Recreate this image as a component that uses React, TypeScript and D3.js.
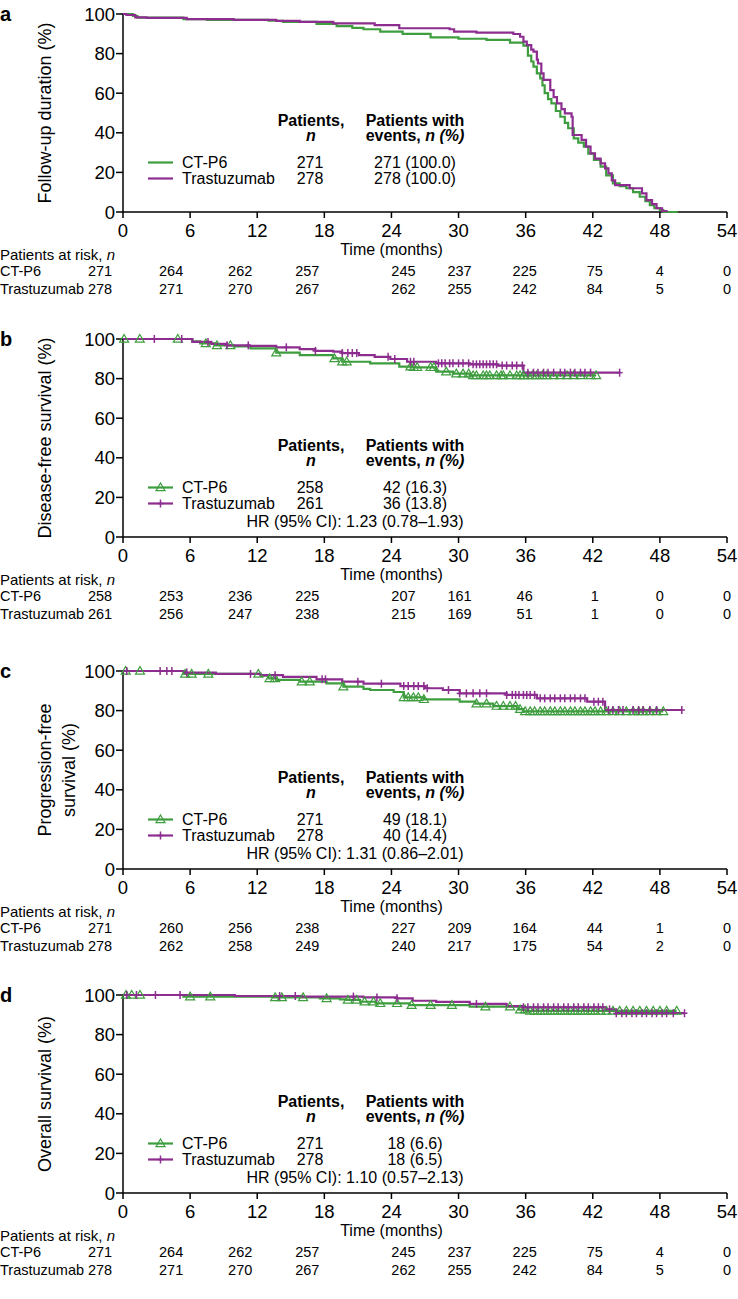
import React from 'react';
import * as d3 from 'd3';

const GREEN = '#3e9d3e';
const PURPLE = '#8c2d8f';
const FONT = 'Liberation Sans, Arial, Helvetica, sans-serif';

const timeTicks = [0, 6, 12, 18, 24, 30, 36, 42, 48, 54];
const yTicks = [0, 20, 40, 60, 80, 100];
const riskCols = [0, 6, 12, 18, 24, 30, 36, 42, 48, 54];
const riskColShift = [-23, -19, -17, -17, 12, 1, -1, 2, 0, 0];

const panelLetters = ['a', 'b', 'c', 'd'];
const panelTops = [14, 339, 671, 995];
const yTitles = [['Follow-up duration (%)'], ['Disease-free survival (%)'], ['Progression-free', 'survival (%)'], ['Overall survival (%)']];
const seriesNames = ['CT-P6', 'Trastuzumab'];

// ---- Panel a: follow-up duration
const aCtT = [0, 0.9, 1.3, 5.4, 7.5, 13, 14.3, 17.3, 19.1, 20.5, 21.5, 23, 25, 27.5, 30, 32.5, 34.6, 35.8, 36.2, 36.5, 36.7, 37, 37.3, 37.5, 37.7, 38, 38.3, 38.7, 39.1, 39.5, 39.8, 40.3, 40.7, 41.2, 41.6, 42.1, 42.7, 43.2, 43.8, 44.4, 45, 45.6, 46.2, 46.7, 47.1, 47.5, 48, 48.3, 49.6];
const aCtS = [100, 99, 98.2, 97.4, 97, 96.6, 96, 95, 93.9, 93, 92.3, 91.1, 90, 88.2, 87.5, 86.9, 85.5, 84, 79, 76, 73.4, 70, 67.5, 64, 60, 57, 54.9, 51, 48.1, 45, 42.3, 37.2, 35, 33, 29.5, 26.3, 22.9, 18.5, 14.5, 13, 12, 10, 7.7, 5.5, 3.5, 2, 1, 0, 0];
const aTrT = [0, 0.3, 1.1, 2.1, 5.7, 9.9, 13.7, 15.8, 18.8, 22.5, 24.7, 29.2, 29.6, 31.6, 34.9, 35.5, 35.8, 36.1, 36.5, 36.7, 37, 37.1, 37.4, 37.6, 38.2, 38.5, 38.8, 39.2, 39.5, 40.1, 40.2, 41, 41.4, 41.8, 42.2, 42.7, 43.1, 43.4, 43.7, 44, 45.3, 46.4, 46.8, 47.3, 47.7, 48.2, 48.6];
const aTrS = [100, 99.5, 98.3, 98, 97.4, 97, 96.5, 96, 95.3, 94.4, 92.8, 92.3, 91.1, 90.6, 89.9, 88.5, 86, 84.3, 82, 81, 77, 75, 70, 66.7, 61.6, 58, 54.9, 52, 49.8, 48.1, 38.9, 36.4, 33, 29.6, 27, 24.6, 22, 19.5, 16, 13.6, 12, 9.4, 6, 4, 1.9, 0.5, 0];

// ---- Panel b: disease-free survival
const bCtT = [0, 6.2, 6.9, 8.2, 9.9, 11.4, 13.7, 15.8, 18.8, 19.6, 22.1, 24.7, 25.8, 28, 29.5, 31, 42.3];
const bCtS = [100, 98.8, 97.8, 96.8, 96.2, 95.3, 93.1, 91.9, 90.2, 88.5, 87.7, 86, 85.7, 83.5, 82.5, 81.6, 81.6];
const bTrT = [0, 6.2, 7.9, 9.3, 11.3, 13.7, 15.8, 17.2, 18.8, 19.6, 21.1, 22.5, 23.9, 25.4, 28, 31, 33.5, 35.8, 44.4];
const bTrS = [100, 98.5, 97.5, 96.8, 96.5, 95.8, 94.9, 94, 93.6, 92.9, 91.9, 91, 89.9, 88.5, 87.7, 87.2, 86.6, 83, 83];
const bCtCens = [0.1, 1.5, 4.9, 7.4, 8.4, 9.6, 13.7, 18.9, 19.6, 20.0, 25.7, 26.0, 26.3, 27.5, 27.8, 28.9, 29.8, 30.4, 30.9, 31.3, 31.6, 32.2, 32.5, 32.8, 33.4, 33.8, 34.0, 34.6, 35.2, 35.5, 35.8, 36.2, 36.6, 37.0, 37.5, 37.9, 38.5, 39.1, 39.7, 40.3, 40.9, 41.8, 42.3];
const bTrCens = [2.8, 5.25, 7.6, 9.3, 11.2, 14.6, 17.2, 19.6, 20.1, 20.5, 20.9, 23.7, 24.3, 25.7, 26.0, 28.2, 28.5, 28.8, 29.2, 29.5, 30.0, 30.4, 30.9, 31.3, 31.6, 31.9, 32.2, 32.5, 32.8, 33.1, 33.4, 33.9, 34.3, 34.8, 35.2, 35.7, 36.2, 36.7, 37.1, 37.6, 38.0, 38.5, 39.1, 39.5, 40.0, 40.4, 40.9, 41.3, 41.8, 44.4];

// ---- Panel c: progression-free survival
const cCtT = [0, 5.4, 12.3, 13, 13.7, 15.8, 18.2, 19.7, 21.5, 22.1, 24.2, 25.1, 26.9, 30.1, 31.5, 33.1, 35.2, 35.8, 48.3];
const cCtS = [100, 98.5, 97.6, 96.3, 95.5, 94.6, 93.8, 92.1, 91, 90.4, 89.4, 86.7, 85.7, 84.5, 83.5, 82.3, 80.7, 79.6, 79.6];
const cTrT = [0, 5.6, 8.3, 12.3, 14.3, 17.3, 19.6, 21.5, 24.8, 27, 28.6, 30.1, 34.3, 37, 41.5, 43.1, 49.9];
const cTrS = [100, 99.2, 98.5, 97.9, 97, 95.8, 94.6, 93.6, 92.4, 91.3, 90.4, 88.7, 87.9, 86.2, 84.5, 80.3, 80.3];
const cCtCens = [0.24, 1.52, 5.55, 6.14, 7.63, 12.1, 13.1, 13.6, 15.98, 16.7, 19.7, 25.1, 25.5, 25.96, 26.4, 26.9, 31.6, 32.5, 33.4, 34.0, 34.6, 35.1, 35.5, 35.95, 36.4, 36.8, 37.3, 37.7, 38.2, 38.6, 39.1, 39.5, 40.0, 40.4, 40.9, 41.3, 41.8, 42.2, 42.7, 43.2, 43.8, 44.4, 45.0, 45.6, 46.1, 46.5, 47.1, 47.7, 48.3];
const cTrCens = [0.33, 3.32, 3.92, 4.37, 5.7, 11.4, 13.6, 17.8, 18.1, 21.0, 23.1, 25.1, 25.5, 26.0, 26.4, 26.9, 27.2, 29.1, 30.1, 30.7, 31.3, 31.9, 32.5, 34.3, 34.8, 35.1, 35.4, 35.8, 36.1, 36.4, 36.8, 37.3, 37.7, 38.2, 38.6, 39.1, 39.5, 40.0, 40.4, 40.9, 41.3, 42.1, 42.5, 42.9, 43.4, 43.8, 44.3, 44.7, 45.6, 46.1, 46.5, 47.1, 47.7, 49.96];

// ---- Panel d: overall survival
const dCtT = [0, 5.4, 13.4, 17.6, 19.4, 20, 21.2, 22.6, 25.6, 31, 35.4, 36, 49.5];
const dCtS = [100, 99.2, 98.8, 98.3, 97.8, 97.5, 96.6, 95.8, 94.9, 94.1, 92.6, 92, 92];
const dTrT = [0, 10, 16, 21.5, 24.5, 25.9, 28, 31, 34.3, 35.8, 43.2, 44.1, 50.2];
const dTrS = [100, 99.5, 99.2, 98.8, 98.3, 97.1, 96.5, 95.5, 94.4, 93.8, 92.8, 90.8, 90.8];
const dCtCens = [0.27, 0.78, 1.52, 6.0, 7.8, 13.6, 14.2, 16.1, 18.2, 20.1, 20.9, 21.6, 22.4, 23.0, 24.5, 25.8, 27.5, 29.4, 32.4, 34.6, 35.5, 35.95, 36.4, 36.8, 37.3, 37.7, 38.2, 38.6, 39.1, 39.5, 40.0, 40.4, 40.9, 41.3, 41.8, 42.2, 42.7, 43.2, 43.8, 44.4, 45.0, 45.6, 46.2, 46.8, 47.4, 48.0, 48.6, 49.5];
const dTrCens = [0.33, 1.2, 2.9, 5.1, 14.0, 15.4, 20.6, 22.7, 24.5, 31.6, 35.8, 36.2, 36.7, 37.1, 37.6, 38.0, 38.5, 38.9, 39.4, 39.8, 40.3, 40.7, 41.2, 41.6, 42.1, 42.5, 42.9, 43.5, 44.1, 44.6, 45.0, 45.5, 45.9, 46.4, 46.8, 47.3, 47.7, 48.2, 48.6, 49.2, 50.2];

// ---- Legends / tables
const legendN = [[271, 278], [258, 261], [271, 278], [271, 278]];
const legendEvents = [['271 (100.0)', '278 (100.0)'], ['42 (16.3)', '36 (13.8)'], ['49 (18.1)', '40 (14.4)'], ['18 (6.6)', '18 (6.5)']];
const hrTexts = ['', 'HR (95% CI): 1.23 (0.78–1.93)', 'HR (95% CI): 1.31 (0.86–2.01)', 'HR (95% CI): 1.10 (0.57–2.13)'];

const riskCt = [
  [271, 264, 262, 257, 245, 237, 225, 75, 4, 0],
  [258, 253, 236, 225, 207, 161, 46, 1, 0, 0],
  [271, 260, 256, 238, 227, 209, 164, 44, 1, 0],
  [271, 264, 262, 257, 245, 237, 225, 75, 4, 0],
];
const riskTr = [
  [278, 271, 270, 267, 262, 255, 242, 84, 5, 0],
  [261, 256, 247, 238, 215, 169, 51, 1, 0, 0],
  [278, 262, 258, 249, 240, 217, 175, 54, 2, 0],
  [278, 271, 270, 267, 262, 255, 242, 84, 5, 0],
];

const ctTimes = [aCtT, bCtT, cCtT, dCtT];
const ctSurv = [aCtS, bCtS, cCtS, dCtS];
const trTimes = [aTrT, bTrT, cTrT, dTrT];
const trSurv = [aTrS, bTrS, cTrS, dTrS];
const ctCens = [[], bCtCens, cCtCens, dCtCens];
const trCens = [[], bTrCens, cTrCens, dTrCens];

const PLOT_H = 198;
const x = d3.scaleLinear().domain([0, 54]).range([123, 727]);

function stepAt(times: number[], vals: number[], t: number) {
  let v = vals[0];
  for (let i = 0; i < times.length; i++) if (times[i] <= t) v = vals[i];
  return v;
}

function Triangle({ cx, cy, color }: { cx: number; cy: number; color: string }) {
  return <path d={`M${cx},${cy - 4.5}L${cx + 4.5},${cy + 3.2}L${cx - 4.5},${cy + 3.2}Z`} fill="none" stroke={color} strokeWidth={1.2} />;
}
function Plus({ cx, cy, color }: { cx: number; cy: number; color: string }) {
  return (
    <g stroke={color} strokeWidth={1.5}>
      <line x1={cx} x2={cx} y1={cy - 4} y2={cy + 4} />
      <line x1={cx - 3} x2={cx + 3} y1={cy} y2={cy} />
    </g>
  );
}

function Panel({ idx }: { idx: number }) {
  const top = panelTops[idx];
  const bottom = top + PLOT_H;
  const y = d3.scaleLinear().domain([0, 100]).range([bottom, top]);
  const line = d3.line<[number, number]>().x(d => x(d[0])).y(d => y(d[1])).curve(d3.curveStepAfter);
  const ctPts = ctTimes[idx].map((t, i) => [t, ctSurv[idx][i]] as [number, number]);
  const trPts = trTimes[idx].map((t, i) => [t, trSurv[idx][i]] as [number, number]);
  const markers = idx > 0;
  const legTop = top;
  const lineX1 = 148, lineX2 = 173, labelX = 182, col1 = 311, col2 = 415;
  const rowY = [legTop + 154, legTop + 170];
  const titles = yTitles[idx];
  return (
    <g>
      <text x={0} y={top + 7} fontFamily={FONT} fontWeight="bold" fontSize={20}>{panelLetters[idx]}</text>
      {titles.length === 1 ? (
        <text transform={`translate(51,${top + PLOT_H / 2}) rotate(-90)`} textAnchor="middle" fontFamily={FONT} fontSize={18}>{titles[0]}</text>
      ) : (
        <g>
          <text transform={`translate(51,${top + PLOT_H / 2}) rotate(-90)`} textAnchor="middle" fontFamily={FONT} fontSize={18}>{titles[0]}</text>
          <text transform={`translate(75,${top + PLOT_H / 2}) rotate(-90)`} textAnchor="middle" fontFamily={FONT} fontSize={18}>{titles[1]}</text>
        </g>
      )}
      <line x1={x(0)} x2={x(0)} y1={top} y2={bottom} stroke="#000" strokeWidth={1.5} />
      <line x1={x(0)} x2={x(54)} y1={bottom} y2={bottom} stroke="#000" strokeWidth={1.5} />
      {yTicks.map(v => (
        <g key={'y' + v}>
          <line x1={x(0) - 7} x2={x(0)} y1={y(v)} y2={y(v)} stroke="#000" strokeWidth={1.5} />
          <text x={115} y={y(v) + 6.5} textAnchor="end" fontFamily={FONT} fontSize={18.5}>{v}</text>
        </g>
      ))}
      {timeTicks.map(t => (
        <g key={'x' + t}>
          <line x1={x(t)} x2={x(t)} y1={bottom} y2={bottom + 6} stroke="#000" strokeWidth={1.5} />
          <text x={x(t)} y={bottom + 25} textAnchor="middle" fontFamily={FONT} fontSize={18.5}>{t}</text>
        </g>
      ))}
      <text x={x(24)} y={bottom + 43} textAnchor="middle" fontFamily={FONT} fontSize={16}>Time (months)</text>
      <path d={line(ctPts) || ''} fill="none" stroke={GREEN} strokeWidth={2.2} />
      <path d={line(trPts) || ''} fill="none" stroke={PURPLE} strokeWidth={2.2} />
      {markers && ctCens[idx].map((t, i) => (
        <Triangle key={'ct' + i} cx={x(t)} cy={y(stepAt(ctTimes[idx], ctSurv[idx], t))} color={GREEN} />
      ))}
      {markers && trCens[idx].map((t, i) => (
        <Plus key={'tr' + i} cx={x(t)} cy={y(stepAt(trTimes[idx], trSurv[idx], t))} color={PURPLE} />
      ))}
      <text x={col1} y={legTop + 112} textAnchor="middle" fontFamily={FONT} fontSize={16} fontWeight="bold">Patients,</text>
      <text x={col1} y={legTop + 127} textAnchor="middle" fontFamily={FONT} fontSize={16} fontWeight="bold" fontStyle="italic">n</text>
      <text x={col2} y={legTop + 112} textAnchor="middle" fontFamily={FONT} fontSize={16} fontWeight="bold">Patients with</text>
      <text x={col2} y={legTop + 127} textAnchor="middle" fontFamily={FONT} fontSize={16} fontWeight="bold">events, <tspan fontStyle="italic">n (%)</tspan></text>
      {seriesNames.map((name, i) => {
        const color = i === 0 ? GREEN : PURPLE;
        const ly = rowY[i] - 5.5;
        return (
          <g key={name}>
            <line x1={lineX1} x2={lineX2} y1={ly} y2={ly} stroke={color} strokeWidth={2.2} />
            {markers && (i === 0 ? <Triangle cx={(lineX1 + lineX2) / 2} cy={ly} color={GREEN} /> : <Plus cx={(lineX1 + lineX2) / 2} cy={ly} color={PURPLE} />)}
            <text x={labelX} y={rowY[i]} fontFamily={FONT} fontSize={16}>{name}</text>
            <text x={col1 - 1} y={rowY[i]} textAnchor="middle" fontFamily={FONT} fontSize={16}>{legendN[idx][i]}</text>
            <text x={col2} y={rowY[i]} textAnchor="middle" fontFamily={FONT} fontSize={16}>{legendEvents[idx][i]}</text>
          </g>
        );
      })}
      {hrTexts[idx] && <text x={355} y={legTop + 188} textAnchor="middle" fontFamily={FONT} fontSize={16}>{hrTexts[idx]}</text>}
      <text x={0} y={bottom + 48} fontFamily={FONT} fontSize={15}>Patients at risk, <tspan fontStyle="italic">n</tspan></text>
      <text x={0} y={bottom + 64} fontFamily={FONT} fontSize={14.5}>CT-P6</text>
      <text x={0} y={bottom + 82} fontFamily={FONT} fontSize={14.5}>Trastuzumab</text>
      {riskCols.map((t, i) => (
        <g key={'r' + i}>
          <text x={x(t) + riskColShift[i]} y={bottom + 64} textAnchor="middle" fontFamily={FONT} fontSize={14.5}>{riskCt[idx][i]}</text>
          <text x={x(t) + riskColShift[i]} y={bottom + 82} textAnchor="middle" fontFamily={FONT} fontSize={14.5}>{riskTr[idx][i]}</text>
        </g>
      ))}
    </g>
  );
}

export default function App() {
  return (
    <svg width={738} height={1299} style={{ position: 'absolute', left: 0, top: 0, background: '#fff' }}>
      <rect width={738} height={1299} fill="#fff" />
      {panelTops.map((_, i) => <Panel key={i} idx={i} />)}
    </svg>
  );
}
